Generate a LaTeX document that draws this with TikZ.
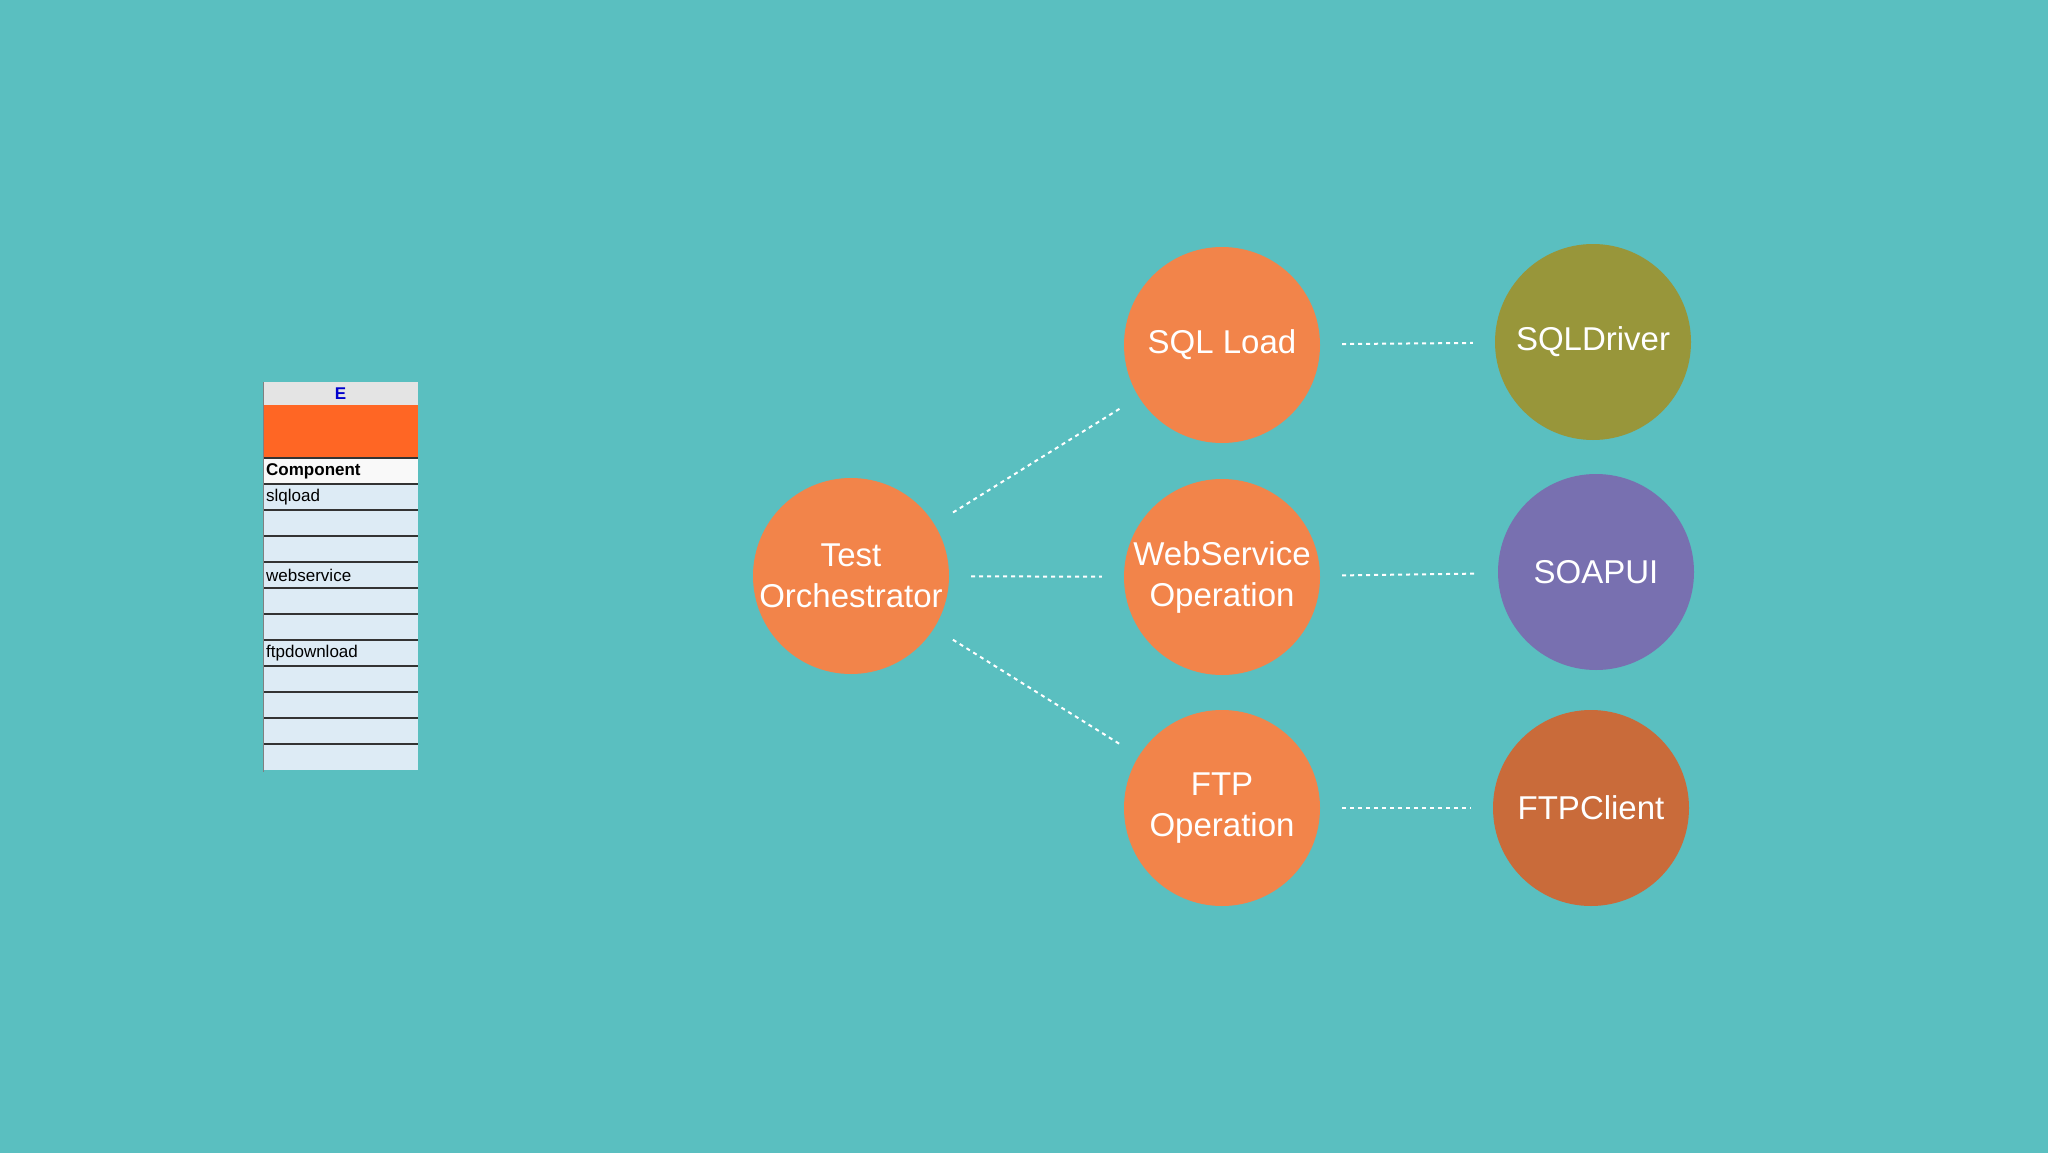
\documentclass[tikz,border=0pt]{standalone}
\usepackage{fontspec}
\setmainfont{Liberation Sans}
\definecolor{bg}{HTML}{5ABFC0}
\definecolor{orn}{HTML}{F2844A}
\definecolor{olv}{HTML}{98963A}
\definecolor{prp}{HTML}{7870B0}
\definecolor{brn}{HTML}{C96B3A}
\definecolor{cell}{HTML}{DDEBF5}
\definecolor{hdr}{HTML}{E4E4E4}
\definecolor{xor}{HTML}{FF6624}
\begin{document}
\begin{tikzpicture}[x=1pt,y=-1pt,
 circ/.style={circle,minimum size=196pt,inner sep=0pt,text=white,font=\fontsize{33}{41}\selectfont,align=center},
 dot/.style={white,line width=2pt,dash pattern=on 4pt off 4pt,shorten <=22pt,shorten >=22pt},
 cellt/.style={anchor=west,font=\fontsize{17}{18}\selectfont,inner sep=3pt}]
\fill[bg] (0,0) rectangle (2048,1153);
\useasboundingbox (0,0) rectangle (2048,1153);
% table
\fill[hdr] (263,382) rectangle (418,405);
\node[text=blue!80!black,font=\bfseries\fontsize{17}{18}\selectfont] (hE) at (340.5,393.5) {E};
\fill[xor] (263,405) rectangle (418,458);
\fill[white!95!gray] (263,458) rectangle (418,484);
\node[cellt,font=\bfseries\fontsize{17}{18}\selectfont] (comp) at (263,471) {Component};
\foreach \i in {0,...,10}{
 \fill[cell] (263,484+26*\i) rectangle (418,510+26*\i);
 \draw[black!80,line width=1.5pt] (263,484+26*\i) -- (418,484+26*\i);
}
\draw[black!80,line width=1.5pt] (263,458) -- (418,458);
\draw[gray,line width=1pt] (263,382) -- (263,772);
\node[cellt] (r1) at (263,497) {slqload};
\node[cellt] (r4) at (263,575) {webservice};
\node[cellt] (r7) at (263,653) {ftpdownload};
% circles
\node[circ,fill=orn] (to) at (851,576) {Test\\Orchestrator};
\node[circ,fill=orn] (sql) at (1222,345) {SQL Load};
\node[circ,fill=orn] (ws) at (1222,577) {WebService\\Operation};
\node[circ,fill=orn] (ftp) at (1222,808) {FTP\\Operation};
\node[circ,fill=olv] (sqld) at (1593,342) {SQLDriver};
\node[circ,fill=prp] (soap) at (1596,572) {SOAPUI};
\node[circ,fill=brn] (ftpc) at (1591,808) {FTPClient};
\draw[dot] (to) -- (sql);
\draw[dot] (to) -- (ws);
\draw[dot] (to) -- (ftp);
\draw[dot] (sql) -- (sqld);
\draw[dot] (ws) -- (soap);
\draw[dot] (ftp) -- (ftpc);
\end{tikzpicture}
\end{document}
